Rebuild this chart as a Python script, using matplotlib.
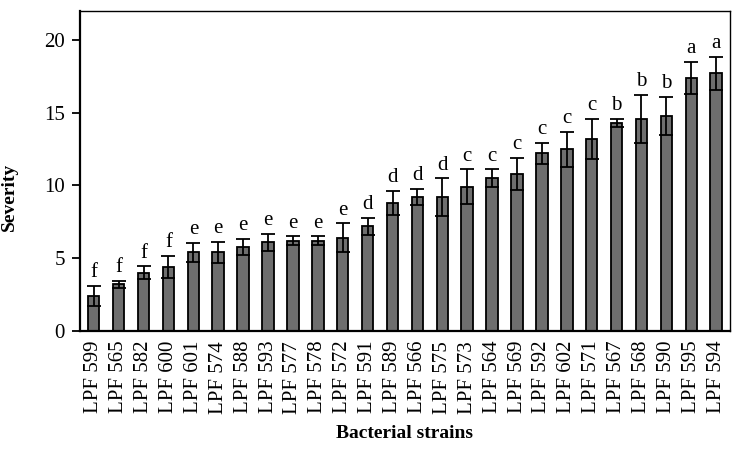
import matplotlib
matplotlib.use("Agg")
import matplotlib.pyplot as plt
import numpy as np

strains = ["LPF 599", "LPF 565", "LPF 582", "LPF 600", "LPF 601", "LPF 574", "LPF 588",
           "LPF 593", "LPF 577", "LPF 578", "LPF 572", "LPF 591", "LPF 589", "LPF 566",
           "LPF 575", "LPF 573", "LPF 564", "LPF 569", "LPF 592", "LPF 602", "LPF 571",
           "LPF 567", "LPF 568", "LPF 590", "LPF 595", "LPF 594"]
severity = [2.4, 3.2, 4.0, 4.4, 5.4, 5.4, 5.8, 6.1, 6.2, 6.2, 6.4, 7.2, 8.8, 9.2,
            9.2, 9.9, 10.5, 10.8, 12.2, 12.5, 13.2, 14.3, 14.6, 14.8, 17.4, 17.7]
errors = [0.7, 0.25, 0.45, 0.75, 0.65, 0.75, 0.55, 0.6, 0.3, 0.3, 1.0, 0.6, 0.85, 0.55,
          1.3, 1.2, 0.6, 1.1, 0.75, 1.2, 1.4, 0.3, 1.65, 1.3, 1.1, 1.15]
letters = ["f", "f", "f", "f", "e", "e", "e", "e", "e", "e", "e", "d", "d", "d",
           "d", "c", "c", "c", "c", "c", "c", "b", "b", "b", "a", "a"]

plt.rcParams['font.family'] = ['Liberation Serif', 'DejaVu Serif']

fig = plt.figure(figsize=(7.41, 4.51), dpi=100)
ax = fig.add_axes([0.108, 0.266, 0.877, 0.710])

x = np.arange(len(strains))
ax.bar(x, severity, width=0.46, color="#6e6e6e", edgecolor="black", linewidth=1.3,
       yerr=errors, error_kw=dict(ecolor="black", elinewidth=1.3, capsize=5, capthick=1.3))

for xi, v, e, l in zip(x, severity, errors, letters):
    ax.text(xi, v + e + 0.25, l, ha="center", va="bottom", fontsize=15)

ax.set_xlim(-0.55, len(strains) - 0.45)
ax.set_ylim(0, 22)
ax.set_yticks([0, 5, 10, 15, 20])
ax.set_xticks(x)
ax.set_xticklabels(strains, rotation=90, fontsize=15)
ax.tick_params(axis="x", length=0, pad=7)
ax.tick_params(axis="y", labelsize=15, direction="out", length=6, width=1.3, pad=5)
for s in ["left", "bottom"]:
    ax.spines[s].set_linewidth(1.6)
for s in ["top", "right"]:
    ax.spines[s].set_linewidth(1.0)

ax.set_ylabel("Severity", fontsize=14, fontweight="bold")
ax.yaxis.set_label_coords(-0.095, 0.42)
ax.set_xlabel("Bacterial strains", fontsize=14, fontweight="bold", labelpad=8)

fig.savefig("out.png", dpi=100)
